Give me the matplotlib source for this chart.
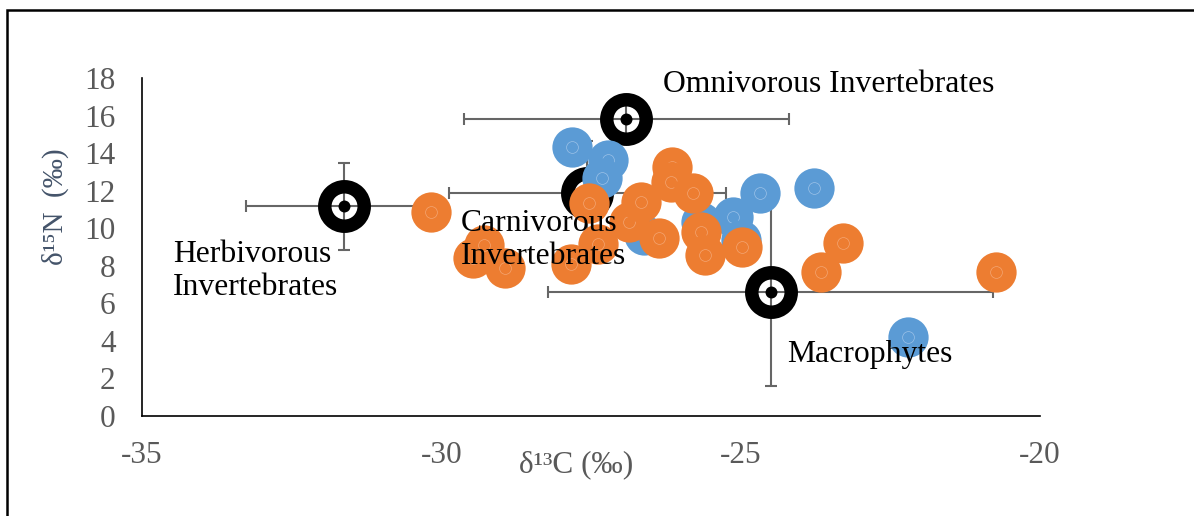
import matplotlib.pyplot as plt
from matplotlib.patches import Rectangle

plt.rcParams['font.family'] = ['Liberation Serif', 'DejaVu Serif']
plt.rcParams['axes.unicode_minus'] = False

# consumer samples (blue) and second sample set (orange)
blue_c = [-27.81, -27.22, -27.31, -24.68, -23.78, -25.12, -25.00, -22.20, -26.62, -25.67]
blue_n = [14.34, 13.63, 12.67, 11.87, 12.14, 10.60, 9.37, 4.22, 9.64, 10.33]

orange_c = [-29.47, -29.28, -26.14, -26.17, -26.37, -25.67, -25.59,
            -30.18, -28.93, -27.84, -27.39, -27.54, -26.87, -26.67,
            -25.79, -24.98, -23.29, -23.65, -20.74]
orange_n = [8.41, 9.11, 13.26, 12.46, 9.48, 9.80, 8.57,
            10.86, 7.88, 8.09, 9.16, 11.34, 10.33, 11.40,
            11.87, 9.00, 9.21, 7.67, 7.67]

# group means with standard deviations
groups = ['Herbivorous\nInvertebrates', 'Omnivorous Invertebrates',
          'Carnivorous\nInvertebrates', 'Macrophytes']
mean_c = [-31.62, -26.91, -27.56, -24.50]
mean_n = [11.18, 15.81, 11.87, 6.60]
sd_c = [1.65, 2.71, 2.31, 3.71]
sd_n = [2.32, 1.0, 2.80, 5.00]
label_xy = [(-34.48, 7.72), (-26.29, 17.68), (-29.67, 9.37), (-24.23, 3.30)]

x_ticks = [-35, -30, -25, -20]
y_ticks = [0, 2, 4, 6, 8, 10, 12, 14, 16, 18]

fig = plt.figure(figsize=(11.94, 5.16), dpi=100)
ax = fig.add_axes([0.1189, 0.1938, 0.7521, 0.655])

# frame around the whole chart
fig.patches.append(Rectangle((7 / 1194, -0.2), 1.2, 0.2 + (516 - 10) / 516,
                             transform=fig.transFigure, fill=False,
                             edgecolor='black', linewidth=1.8))

ax.errorbar(mean_c, mean_n, xerr=sd_c, yerr=sd_n, fmt='none', ecolor='#666666',
            elinewidth=1.5, capsize=4.5, capthick=1.5, zorder=2)
ax.plot(mean_c, mean_n, 'o', ms=28.4, mfc='none', mec='black', mew=9.7,
        zorder=2.3)
ax.plot(mean_c, mean_n, 'o', ms=8.6, color='black', mec='none', zorder=2.4)

for i, (c, n) in enumerate(zip(blue_c, blue_n)):
    z = 3 + i * 0.01
    ax.plot(c, n, 'o', ms=29, color='#5B9BD5', mec='none', zorder=z)
    ax.plot(c, n, 'o', ms=8.5, mfc='none', mec='#9CC2E8', mew=0.5, zorder=z + 0.005)

for i, (c, n) in enumerate(zip(orange_c, orange_n)):
    z = 4 + i * 0.01
    ax.plot(c, n, 'o', ms=29, color='#ED7D31', mec='none', zorder=z)
    ax.plot(c, n, 'o', ms=8.5, mfc='none', mec='#F4A673', mew=0.5, zorder=z + 0.005)

for name, (tx, ty) in zip(groups, label_xy):
    ax.text(tx, ty, name, fontsize=22.8, ha='left', va='center',
            linespacing=1.15, color='black', zorder=6)

ax.set_xlim(-35, -20)
ax.set_ylim(0, 18)
ax.set_xticks(x_ticks)
ax.set_yticks(y_ticks)
ax.tick_params(length=0, labelsize=22.5, labelcolor='#595959')
ax.tick_params(axis='y', pad=19)
ax.tick_params(axis='x', pad=18)

for side in ['top', 'right']:
    ax.spines[side].set_visible(False)
for side in ['left', 'bottom']:
    ax.spines[side].set_linewidth(1.2)
    ax.spines[side].set_color('black')

ax.set_xlabel('δ¹³C (‰)', fontsize=22.5, color='#595959', va='center')
ax.xaxis.set_label_coords(0.483, -0.145)
ax.set_ylabel('δ¹⁵N  (‰)', fontsize=21, color='#44546A', va='center')
ax.yaxis.set_label_coords(-0.097, 0.618)

fig.savefig('out.png', dpi=100)
